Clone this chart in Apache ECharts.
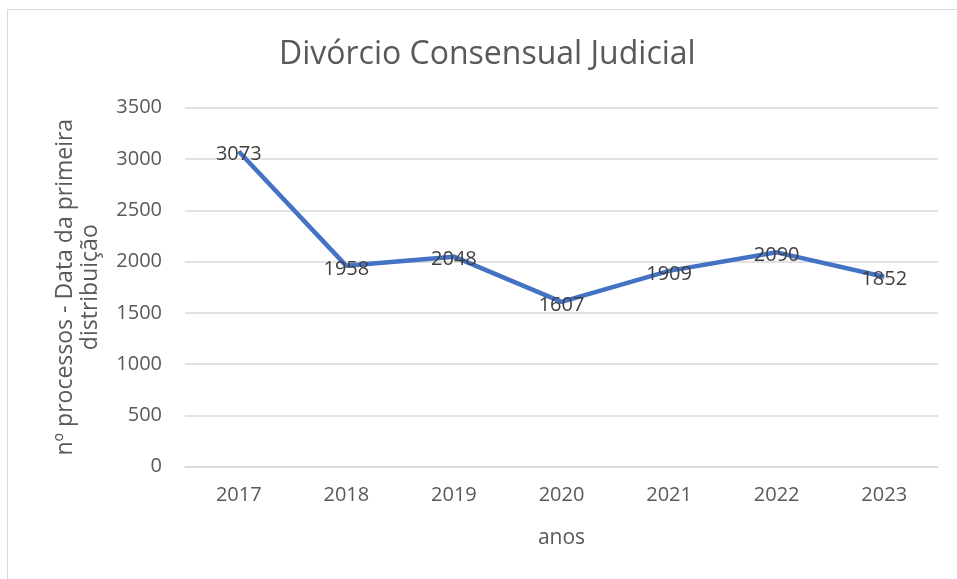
<!DOCTYPE html>
<html>
<head>
<meta charset="utf-8">
<script src="https://cdn.jsdelivr.net/npm/echarts@6/dist/echarts.min.js"></script>
<style>
html,body{margin:0;padding:0;background:#fff;}
#c{width:957px;height:579px;}
</style>
</head>
<body>
<div id="c"></div>
<script>
var categories = ['2017','2018','2019','2020','2021','2022','2023'];
var values = [3073, 1958, 2048, 1607, 1909, 2090, 1852];
var titleText = 'Divórcio Consensual Judicial';
var yName = 'nº processos - Data da primeira\ndistribuição';
var xName = 'anos';

var font = '"Open Sans", "Noto Sans", sans-serif';
var chart = echarts.init(document.getElementById('c'));
chart.setOption({
  backgroundColor: '#ffffff',
  animation: false,
  graphic: [{
    type: 'rect',
    shape: {x: 7.5, y: 9.5, width: 1000, height: 1000},
    style: {fill: 'none', stroke: '#d9d9d9', lineWidth: 1},
    silent: true
  }],
  title: {
    text: titleText,
    left: 274,
    top: 34,
    textStyle: {fontFamily: font, fontSize: 32, fontWeight: 'normal', color: '#595959'}
  },
  grid: {left: 185, right: 19, top: 107.7, bottom: 112.3},
  xAxis: {
    type: 'category',
    data: categories,
    boundaryGap: true,
    name: xName,
    nameLocation: 'middle',
    nameGap: 61,
    nameTextStyle: {fontFamily: font, fontSize: 21, color: '#595959'},
    axisLine: {show: true, lineStyle: {color: '#d9d9d9', width: 1.5}},
    axisTick: {show: false},
    axisLabel: {fontFamily: font, fontSize: 20, color: '#595959', margin: 19}
  },
  yAxis: {
    type: 'value',
    min: 0, max: 3500, interval: 500,
    name: yName,
    nameLocation: 'middle',
    nameGap: 82,
    nameRotate: 90,
    nameTextStyle: {fontFamily: font, fontSize: 23, color: '#595959', lineHeight: 25},
    axisLine: {show: false},
    axisTick: {show: false},
    splitLine: {lineStyle: {color: '#d9d9d9', width: 1.5}},
    axisLabel: {fontFamily: font, fontSize: 20, color: '#595959', margin: 23,
      formatter: function (v) { return String(v); }}
  },
  series: [{
    type: 'line',
    data: values,
    showSymbol: true,
    symbol: 'circle',
    symbolSize: 1,
    itemStyle: {color: '#4472C4'},
    lineStyle: {color: '#4472C4', width: 4.5},
    label: {
      show: true,
      position: 'inside',
      offset: [0, 3],
      fontFamily: font,
      fontSize: 20,
      color: '#404040'
    }
  }]
});
</script>
</body>
</html>
